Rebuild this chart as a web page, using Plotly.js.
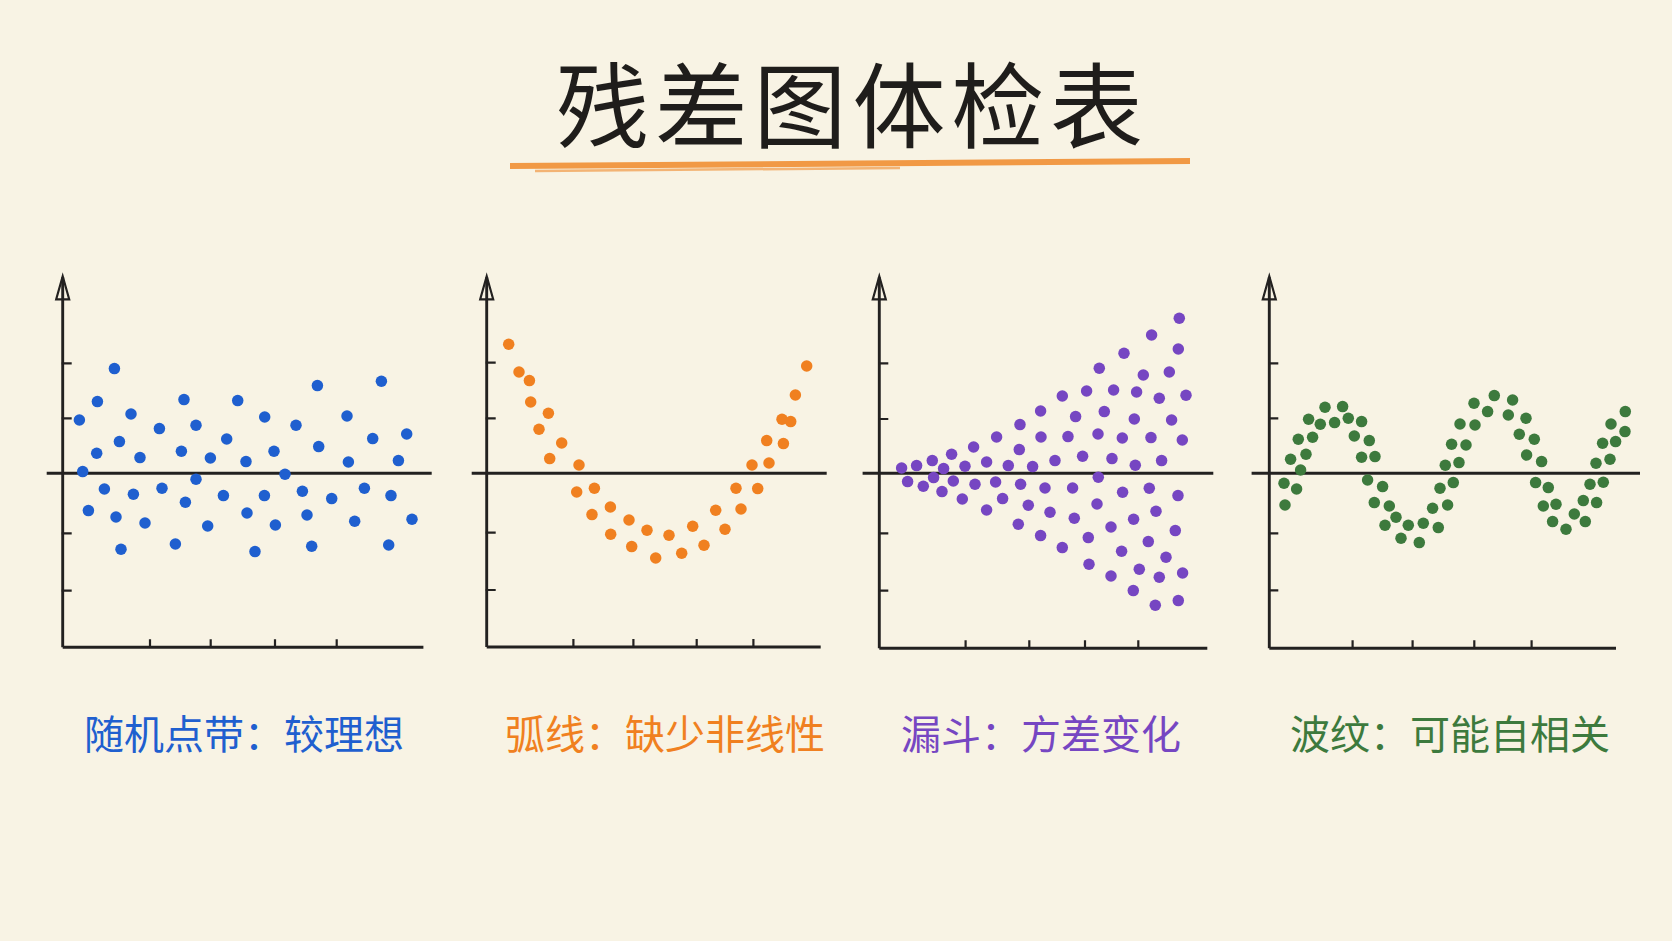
<!DOCTYPE html>
<html>
<head>
<meta charset="utf-8">
<script src="https://cdn.plot.ly/plotly-3.0.1.min.js"></script>
<style>
  html, body { margin: 0; padding: 0; background: #f8f3e4; }
  #chart { width: 1672px; height: 941px; }
</style>
</head>
<body>
<div id="chart"></div>
<script>
// ---------- data (x = position along the run, y = residual) ----------
const chartTitle = "残差图体检表";
const panelLabels = ["随机点带：较理想", "弧线：缺少非线性", "漏斗：方差变化", "波纹：可能自相关"];
const panelColors = ["#1f5fcf", "#f08020", "#7646c2", "#3d7a3d"];

// Panel 1: random band
const randomX = [1.67,2.0,2.57,3.4,3.47,4.17,5.17,5.33,5.67,5.83,6.83,7.07,7.73,8.23,9.67,9.93,11.27,11.87,12.13,12.27,13.33,13.33,14.5,14.77,16.07,16.4,17.5,18.33,18.43,19.23,20.2,20.17,21.13,21.27,22.23,23.33,23.97,24.43,24.9,25.47,25.6,26.9,28.43,28.57,29.2,30.17,31.0,31.87,32.6,32.83,33.57,34.4,34.93];
const randomY = [5.33,0.17,-3.73,2.0,7.17,-1.57,10.47,-4.37,3.17,-7.6,5.93,-2.1,1.57,-4.97,4.47,-1.5,-7.07,2.2,7.37,-2.9,4.8,-0.6,-5.27,1.53,-2.23,3.43,7.27,1.17,-3.97,-7.83,5.63,-2.23,2.2,-5.17,-0.1,4.8,-1.8,-4.17,-7.3,8.77,2.67,-2.53,5.73,1.13,-4.8,-1.5,3.47,9.2,-7.17,-2.23,1.27,3.93,-4.6];

// Panel 2: arc (U shape)
const arcX = [2.2,3.23,4.27,4.4,5.23,6.17,6.3,7.5,9.23,9.0,10.77,10.53,12.37,12.4,14.23,14.5,16.03,16.9,18.23,19.5,20.6,21.73,22.9,23.83,24.93,25.43,26.53,27.1,28.0,28.23,29.53,29.67,30.4,30.87,32.0];
const arcY = [12.9,10.13,9.27,7.13,4.4,6.0,1.47,3.03,0.83,-1.87,-1.5,-4.13,-3.37,-6.1,-4.67,-7.33,-5.7,-8.47,-6.2,-8.0,-5.3,-7.2,-3.7,-5.6,-1.5,-3.57,0.83,-1.53,3.27,1.03,5.4,2.97,5.17,7.83,10.73];

// Panel 3: funnel (growing spread)
const funnelX = [2.23,3.73,5.3,6.43,7.23,8.57,9.43,10.73,11.73,12.9,14.07,14.0,15.33,16.13,16.17,17.57,18.3,18.87,19.63,20.33,20.73,21.87,22.0,22.5,23.27,23.43,24.3,24.47,25.5,25.6,25.73,26.4,27.17,27.23,28.0,28.23,29.0,29.23,29.9,30.0,30.3,30.67,
                 2.83,4.4,5.43,6.27,7.4,8.3,9.57,10.73,11.63,12.33,13.9,14.13,14.9,16.13,16.57,17.07,18.3,19.33,19.5,20.9,20.97,21.77,21.9,23.17,23.17,24.23,24.33,25.4,25.43,26.0,26.9,27.0,27.67,27.6,28.0,28.67,29.6,29.87,29.9,30.33];
const funnelY = [0.53,0.77,1.27,0.47,1.9,0.7,2.63,1.13,3.63,0.77,4.87,2.37,0.67,6.23,3.63,1.27,7.73,3.67,5.67,1.7,8.23,3.93,10.5,6.17,1.47,8.33,3.53,12.0,5.43,0.8,8.13,9.83,3.57,13.83,7.5,1.27,10.13,5.33,12.43,15.5,3.33,7.8,
                 -0.83,-1.3,-0.43,-1.83,-0.77,-2.57,-1.1,-3.67,-0.87,-2.53,-5.1,-1.1,-3.2,-6.23,-1.47,-3.9,-7.43,-1.47,-4.5,-6.43,-9.1,-3.07,-0.4,-5.37,-10.27,-7.8,-1.9,-11.73,-4.6,-9.6,-6.83,-1.5,-3.8,-13.2,-10.4,-8.4,-5.73,-2.23,-12.73,-9.97];

// Panel 4: ripple (autocorrelation)
const waveX = [1.57,1.47,2.73,2.13,3.13,2.9,3.67,3.93,4.33,5.1,5.57,6.53,7.33,7.9,9.23,8.5,10.0,9.23,10.57,9.83,11.33,10.5,12.0,12.67,11.57,13.9,13.17,15.0,15.4,16.9,16.33,17.07,17.83,18.4,17.6,18.23,18.97,19.67,19.07,20.57,20.47,21.83,22.5,24.33,23.9,25.67,25.0,26.5,25.73,27.23,26.63,27.9,27.4,28.67,28.33,29.67,30.5,31.6,31.4,32.73,32.07,33.4,32.67,34.07,33.33,34.63,34.17,35.57,35.6];
const waveY = [-3.17,-1.0,-1.57,1.4,0.33,3.4,1.9,5.4,3.6,4.9,6.6,5.07,6.67,5.5,5.17,3.73,3.27,1.6,1.67,-0.67,-1.33,-2.93,-3.27,-4.4,-5.2,-5.2,-6.5,-6.93,-5.0,-5.43,-3.5,-1.5,-3.17,-0.93,0.8,2.9,1.07,2.83,4.93,4.83,7.0,6.17,7.77,7.33,5.83,5.5,3.9,3.4,1.83,1.17,-0.93,-1.43,-3.27,-3.1,-4.83,-5.6,-4.07,-4.83,-2.73,-2.93,-1.1,-0.9,1.0,1.4,3.0,3.17,4.93,4.17,6.17];

const seriesX = [randomX, arcX, funnelX, waveX];
const seriesY = [randomY, arcY, funnelY, waveY];

// ---------- layout geometry (pixels / axis units) ----------
const W = 1672, H = 941;
const PX_PER_UNIT = 10;
const ZERO_PX = 473.3;
const Y_MIN = -18.2, Y_MAX = 20.2, X_MIN = -2.0;
const INK = "#232120";
const LW = 2.9;

const geom = [
  {axisPx: 62.7,  zl: [-1.6, 36.9],  bx: 36.07, by: -17.4,  yt: [11, 5.5, -6, -11.73],   xt: [8.73, 14.8, 21.23, 27.4], xmax: 37.3, labelPx: 244},
  {axisPx: 486.7, zl: [-1.5, 34.0],  bx: 33.4,  by: -17.37, yt: [11.07, 5.5, -5.93, -11.67], xt: [8.67, 14.67, 21, 26.67], xmax: 34.4, labelPx: 665},
  {axisPx: 879.3, zl: [-1.67, 33.4], bx: 32.8,  by: -17.5,  yt: [11, 5.43, -6, -11.73],   xt: [8.63, 15, 20.57, 25.9],  xmax: 33.8, labelPx: 1041},
  {axisPx: 1269.3,zl: [-1.77, 37.07],bx: 34.67, by: -17.5,  yt: [11, 5.5, -6, -11.7],    xt: [8.33, 14.33, 20.5, 26.23], xmax: 37.4, labelPx: 1450}
];

const yDomain = [(H - (ZERO_PX - Y_MIN * PX_PER_UNIT)) / H, (H - (ZERO_PX - Y_MAX * PX_PER_UNIT)) / H];

const traces = [];
const shapes = [];
const annotations = [];
const layout = {
  width: W, height: H,
  margin: {l: 0, r: 0, t: 0, b: 0},
  paper_bgcolor: "#f8f3e4",
  plot_bgcolor: "rgba(0,0,0,0)",
  showlegend: false,
  font: {family: "Noto Sans CJK SC, Noto Sans, sans-serif"}
};

geom.forEach((g, i) => {
  const n = i === 0 ? "" : String(i + 1);
  const xa = "x" + n, ya = "y" + n;
  layout["xaxis" + n] = {
    domain: [(g.axisPx + X_MIN * PX_PER_UNIT) / W, (g.axisPx + g.xmax * PX_PER_UNIT) / W],
    range: [X_MIN, g.xmax], visible: false, fixedrange: true
  };
  layout["yaxis" + n] = {
    domain: yDomain, range: [Y_MIN, Y_MAX], visible: false, fixedrange: true
  };
  const line = (x0, y0, x1, y1, w) => ({
    type: "line", xref: xa, yref: ya, x0, y0, x1, y1,
    line: {color: INK, width: w || LW}, layer: "below"
  });
  // zero line
  shapes.push(line(g.zl[0], 0, g.zl[1], 0, 3.1));
  // y axis
  shapes.push(line(0, g.by, 0, 19.6));
  // bottom axis
  shapes.push(line(0, g.by, g.bx, g.by));
  // ticks
  g.yt.forEach(t => shapes.push(line(-0.1, t, 0.9, t, 2.2)));
  g.xt.forEach(t => shapes.push(line(t, g.by, t, g.by + 0.8, 2.2)));
  // arrow head
  shapes.push({
    type: "path", xref: xa, yref: ya,
    path: "M -0.65 17.4 L 0 19.7 L 0.65 17.4 Z",
    line: {color: INK, width: 2.2}, fillcolor: "rgba(0,0,0,0)", layer: "below"
  });

  traces.push({
    type: "scatter", mode: "markers", xaxis: xa, yaxis: ya,
    x: seriesX[i], y: seriesY[i], cliponaxis: false, hoverinfo: "skip",
    marker: {size: 11.5, color: panelColors[i], line: {width: 0}}
  });

  annotations.push({
    xref: "paper", yref: "paper", x: g.labelPx / W, y: 1 - 732 / H,
    xanchor: "center", yanchor: "middle", showarrow: false,
    text: panelLabels[i],
    font: {size: 40, color: panelColors[i], family: "Noto Sans CJK SC"}
  });
});

// title (hair spaces widen the hand-lettered spacing a little)
annotations.push({
  xref: "paper", yref: "paper", x: 849 / W, y: 1 - 101 / H,
  xanchor: "center", yanchor: "middle", showarrow: false,
  text: chartTitle.split("").join("\u200A"),
  font: {size: 93, color: "#1f1d1b", family: "Noto Sans CJK SC"}
});

// orange crayon underline
const P = (px, py) => [px / W, 1 - py / H];
const u1 = P(510, 166), u2 = P(1190, 161), u3 = P(535, 171), u4 = P(900, 168);
shapes.push({type: "line", xref: "paper", yref: "paper", x0: u1[0], y0: u1[1], x1: u2[0], y1: u2[1],
  line: {color: "#f08a2a", width: 6}, opacity: 0.85, layer: "below"});
shapes.push({type: "line", xref: "paper", yref: "paper", x0: u3[0], y0: u3[1], x1: u4[0], y1: u4[1],
  line: {color: "#f08a2a", width: 2.5}, opacity: 0.6, layer: "below"});

layout.shapes = shapes;
layout.annotations = annotations;

Plotly.newPlot("chart", traces, layout, {staticPlot: true, displayModeBar: false});
</script>
</body>
</html>
